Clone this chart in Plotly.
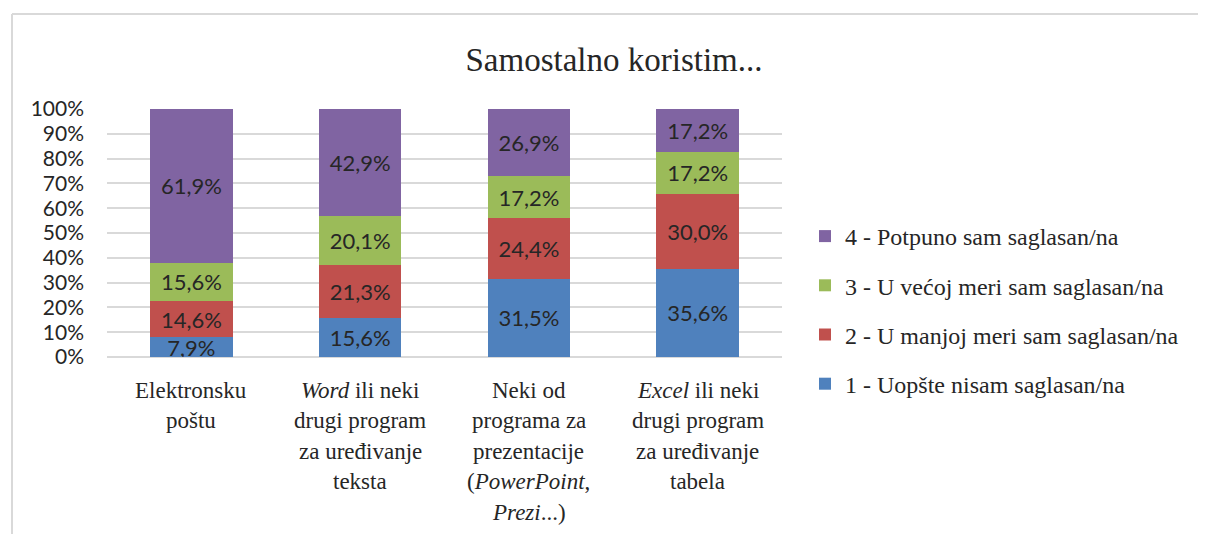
import plotly.graph_objects as go

categories = [
    "Elektronsku<br>poštu",
    "<i>Word</i> ili neki<br>drugi program<br>za uređivanje<br>teksta",
    "Neki od<br>programa za<br>prezentacije<br>(<i>PowerPoint</i>,<br><i>Prezi</i>...)",
    "<i>Excel</i> ili neki<br>drugi program<br>za uređivanje<br>tabela",
]
series_names = [
    "1 - Uopšte nisam saglasan/na",
    "2 - U manjoj meri sam saglasan/na",
    "3 - U većoj meri sam saglasan/na",
    "4 - Potpuno sam saglasan/na",
]
s1 = [7.9, 15.6, 31.5, 35.6]
s2 = [14.6, 21.3, 24.4, 30.0]
s3 = [15.6, 20.1, 17.2, 17.2]
s4 = [61.9, 42.9, 26.9, 17.2]
series_values = [s1, s2, s3, s4]
colors = ["#4F81BD", "#C0504D", "#9BBB59", "#8064A2"]
y_ticks = [0, 10, 20, 30, 40, 50, 60, 70, 80, 90, 100]
y_tick_labels = ["0%", "10%", "20%", "30%", "40%", "50%", "60%", "70%", "80%", "90%", "100%"]

# page offset (default body margin of the html page)
O = 8
W, H = 1206 - O, 534 - O
# plot area in page pixels
L, R, T, B = 107, 782, 109, 357

def px_x(p):
    return (p - L) / (R - L)

def px_y(p):
    return (B - p) / (B - T)

fig = go.Figure()
for i, (name, vals) in enumerate(zip(series_names, series_values)):
    fig.add_trace(go.Bar(
        x=categories, y=vals, name=name,
        marker=dict(color=colors[i], line=dict(width=0)),
        texttemplate="%{y:.1f}%", textposition="inside",
        insidetextanchor="middle", constraintext="none",
        textfont=dict(family="Lato", size=22, color="#262626"),
        legendgroup=str(i), legendrank=len(series_names) - i,
        hoverinfo="skip",
    ))

# category labels, one annotation per line for the original line spacing
annotations = []
for cat in categories:
    for k, line in enumerate(cat.split("<br>")):
        annotations.append(dict(
            x=cat, xref="x", y=0, yref="paper",
            text=line, showarrow=False,
            xanchor="center", yanchor="middle",
            yshift=-(390 - B) - k * 30.5,
            font=dict(family="Liberation Serif", size=23, color="#262626"),
        ))

fig.update_layout(
    width=W, height=H,
    barmode="stack", bargap=0.51,
    separators=", ",
    paper_bgcolor="white", plot_bgcolor="white",
    margin=dict(l=L - O, r=W - (R - O), t=T - O, b=H - (B - O), pad=0),
    title=dict(text="Samostalno koristim...", x=(614 - O) / W, xanchor="center",
               y=1 - (59 - O) / H, yanchor="middle",
               font=dict(family="Liberation Serif", size=33, color="#262626")),
    legend=dict(x=px_x(805), xanchor="left", y=px_y(310), yanchor="middle",
                traceorder="grouped", tracegroupgap=15,
                font=dict(family="Liberation Serif", size=24, color="#262626"),
                itemclick=False, itemdoubleclick=False),
    xaxis=dict(showgrid=False, showline=False, ticks="", showticklabels=False),
    yaxis=dict(range=[0, 100], tickvals=y_ticks, ticktext=y_tick_labels,
               showgrid=True, gridcolor="#D9D9D9", gridwidth=1.5,
               zeroline=True, zerolinecolor="#D9D9D9", zerolinewidth=2,
               showline=False, ticks="",
               tickfont=dict(family="Lato", size=21, color="#262626"),
               ticklabelstandoff=22),
    annotations=annotations,
    shapes=[
        dict(type="line", xref="paper", yref="paper",
             x0=px_x(12), x1=px_x(1220), y0=px_y(14), y1=px_y(14),
             line=dict(color="#D9D9D9", width=2)),
        dict(type="line", xref="paper", yref="paper",
             x0=px_x(12), x1=px_x(12), y0=px_y(14), y1=px_y(560),
             line=dict(color="#D9D9D9", width=2)),
    ],
)

fig.write_html("out.html")
